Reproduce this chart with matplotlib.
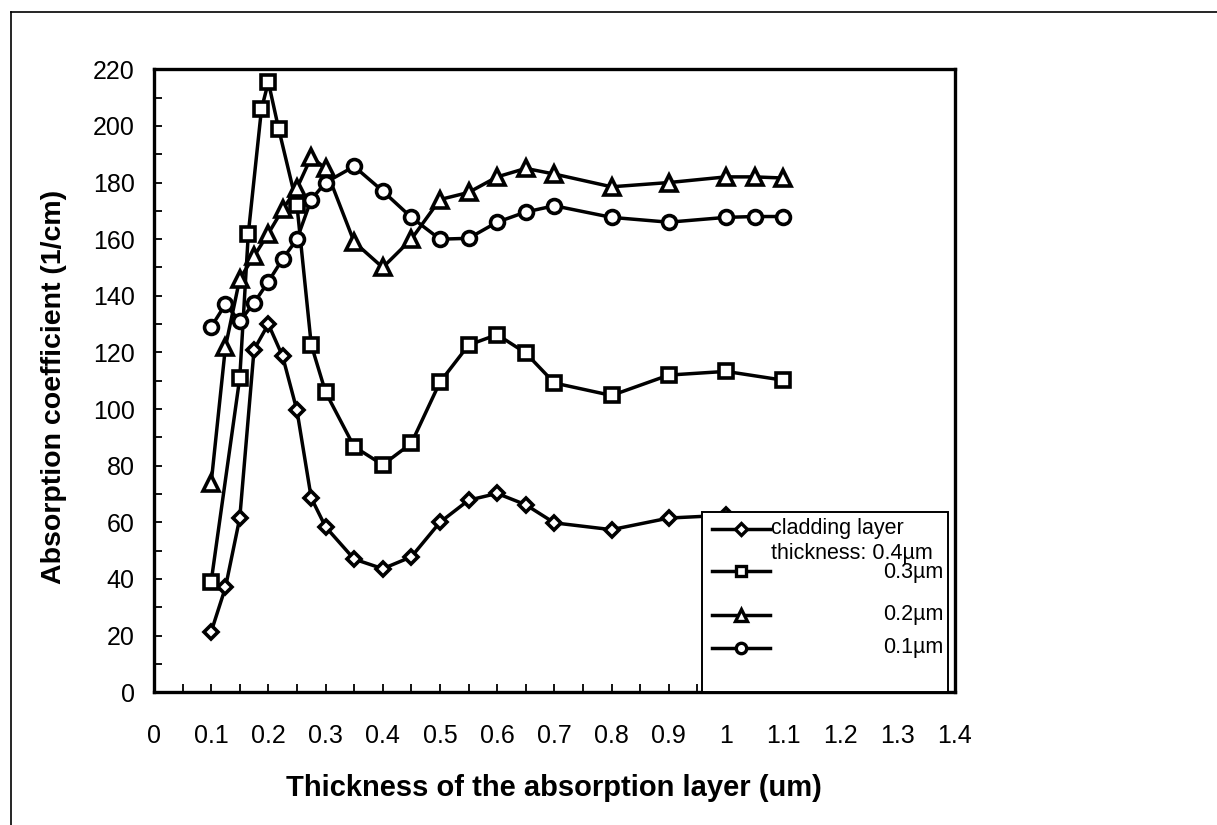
import matplotlib
matplotlib.use('Agg')
import matplotlib.pyplot as plt
from matplotlib.lines import Line2D
from matplotlib.patches import Rectangle
from matplotlib.ticker import MultipleLocator

plt.rcParams['font.family'] = ['Liberation Sans', 'DejaVu Sans']

# thickness of the absorption layer (um)
x_main = [0.1, 0.125, 0.15, 0.175, 0.2, 0.225, 0.25, 0.275, 0.3, 0.35, 0.4,
          0.45, 0.5, 0.55, 0.6, 0.65, 0.7, 0.8, 0.9, 1.0, 1.05, 1.1]
x_sq = [0.1, 0.15, 0.165, 0.188, 0.2, 0.218, 0.25, 0.275, 0.3, 0.35, 0.4,
        0.45, 0.5, 0.55, 0.6, 0.65, 0.7, 0.8, 0.9, 1.0, 1.1]

# absorption coefficient (1/cm) per cladding layer thickness
clad_04 = [21.3, 37, 61.5, 121, 130, 118.6, 99.5, 68.6, 58.4, 47, 43.6,
           47.8, 60, 67.8, 70.2, 66.2, 59.8, 57.4, 61.5, 62.5, 60.5, 60]
clad_03 = [39, 111, 162, 206, 215.5, 199, 172, 122.7, 106, 86.7, 80.3,
           87.9, 109.5, 122.6, 126.3, 119.8, 109.2, 104.8, 112, 113.3, 110.2]
clad_02 = [73.8, 122, 146, 154, 162, 170.5, 178, 189, 185, 159, 150,
           160, 174, 176.5, 182, 185, 183, 178.5, 180, 182, 182, 181.6]
clad_01 = [129, 137, 131, 137.5, 145, 153, 160, 174, 180, 185.7, 177,
           167.7, 160, 160.3, 166, 169.6, 171.8, 167.7, 166, 167.7, 168, 168]

fig = plt.figure(figsize=(12.17, 8.25), dpi=100)
ax = fig.add_axes([0.1265, 0.161, 0.658, 0.755])

style = dict(color='black', lw=2.5, mfc='white', mec='black', mew=2.6)
ax.plot(x_main, clad_04, marker='D', ms=7.5, **style)
ax.plot(x_sq, clad_03, marker='s', ms=9.5, **style)
ax.plot(x_main, clad_02, marker='^', ms=11, **style)
ax.plot(x_main, clad_01, marker='o', ms=10, **style)

ax.set_xlim(0, 1.4)
ax.set_ylim(0, 220)
ax.xaxis.set_major_locator(MultipleLocator(0.1))
ax.xaxis.set_minor_locator(MultipleLocator(0.05))
ax.yaxis.set_major_locator(MultipleLocator(20))
ax.yaxis.set_minor_locator(MultipleLocator(10))
ax.set_xticklabels([f'{v:g}' for v in ax.get_xticks()])
ax.tick_params(which='both', direction='in', length=6, width=1.3,
               top=False, right=False, labelsize=18)
ax.tick_params(axis='x', which='major', pad=23)
ax.tick_params(axis='y', which='major', pad=14)
for s in ax.spines.values():
    s.set_linewidth(2.4)

ax.set_xlabel('Thickness of the absorption layer (um)', fontsize=21,
              fontweight='bold')
ax.set_ylabel('Absorption coefficient (1/cm)', fontsize=20.5, fontweight='bold')
ax.xaxis.set_label_coords(0.5, -0.132)
ax.yaxis.set_label_coords(-0.108, 0.49)

# legend box drawn in axes fraction
tr = ax.transAxes
ax.add_patch(Rectangle((0.685, 0.0), 0.306, 0.289, transform=tr, fc='white',
                       ec='black', lw=1.4, zorder=10, clip_on=False))
entries = [('D', 6.5, 0.262), ('s', 7, 0.194), ('^', 8.5, 0.124), ('o', 7.5, 0.071)]
for m, ms, yy in entries:
    ax.add_line(Line2D([0.697, 0.769], [yy, yy], transform=tr, color='black',
                       lw=2.5, zorder=11, clip_on=False))
    ax.add_line(Line2D([0.733], [yy], transform=tr, marker=m, ms=ms, mfc='white',
                       mec='black', mew=2.4, zorder=12, clip_on=False))
ax.text(0.770, 0.262, 'cladding layer', transform=tr, fontsize=15.5,
        va='center', ha='left', zorder=13)
ax.text(0.770, 0.222, 'thickness: 0.4µm', transform=tr, fontsize=15.5,
        va='center', ha='left', zorder=13)
for lab, yy in [('0.3µm', 0.192), ('0.2µm', 0.124), ('0.1µm', 0.071)]:
    ax.text(0.986, yy, lab, transform=tr, fontsize=15.5, va='center', ha='right',
            zorder=13)

# page border from the scan
fig.add_artist(Line2D([0.009, 0.009], [0.0, 0.985], transform=fig.transFigure,
                      color='black', lw=1.2))
fig.add_artist(Line2D([0.009, 1.0], [0.985, 0.985], transform=fig.transFigure,
                      color='black', lw=1.2))

fig.savefig('out.png', dpi=100)
